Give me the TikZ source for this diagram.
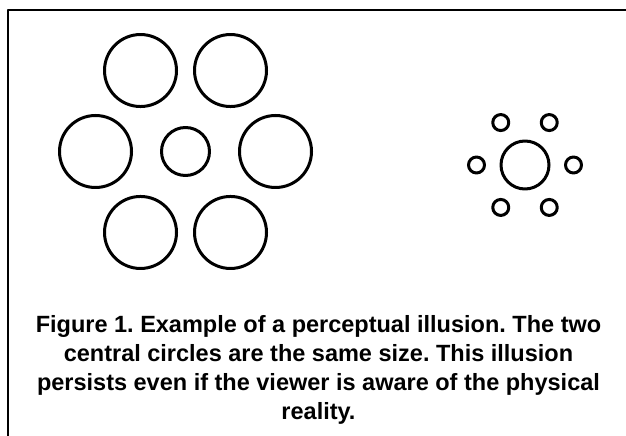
\documentclass[tikz,border=0pt]{standalone}
\usepackage{fontspec}
\setmainfont{Liberation Sans}
\usetikzlibrary{calc}
\frenchspacing
\tikzset{
  every picture/.style={line cap=round, line join=round},
  ring/.style={circle, draw, line width=3pt, inner sep=0pt, minimum size=#1},
  frame/.style={line width=2.5pt},
  caption/.style={font=\fontsize{23.5}{29}\selectfont\bfseries, align=center, inner sep=0pt},
}
\begin{document}
\begin{tikzpicture}[x=1pt, y=1pt]
  \useasboundingbox (0,0) rectangle (626,436);
  \draw[frame] (8,0) -- (8,426) -- (629,426);
  % large surround
  \coordinate (lc) at (185.5,284.5);
  \node[ring=48pt] (lmid) at (lc) {};
  \foreach \a [count=\i] in {0,60,...,300}
    \node[ring=72pt] (lout\i) at ($(lc)+({90*cos(\a)},{93.5*sin(\a)})$) {};
  % small surround
  \coordinate (rc) at (525,271);
  \node[ring=48pt] (rmid) at (rc) {};
  \foreach \a [count=\i] in {0,60,...,300}
    \node[ring=16pt] (rout\i) at ($(rc)+({48.5*cos(\a)},{49*sin(\a)})$) {};
  % caption
  \node[caption, anchor=north] (cap) at (318.5,121)
    {Figure 1. Example of a perceptual illusion. The two\\
     central circles are the same size. This illusion\\
     persists even if the viewer is aware of the physical\\
     reality.};
\end{tikzpicture}
\end{document}
